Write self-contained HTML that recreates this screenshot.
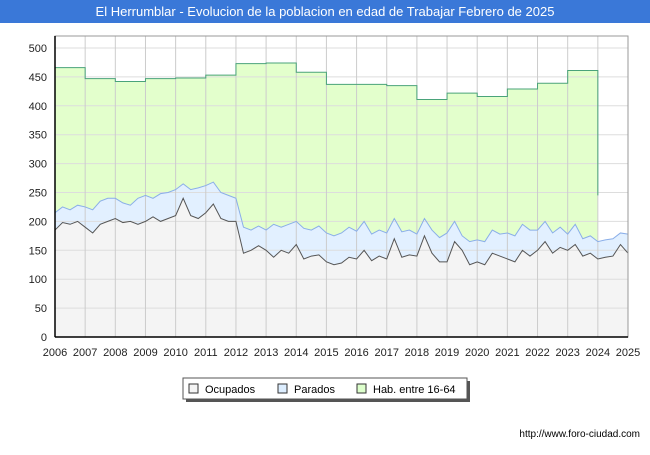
<!DOCTYPE html>
<html><head><meta charset="utf-8"><style>
body{margin:0;width:650px;height:450px;background:#fff;font-family:"Liberation Sans",sans-serif;overflow:hidden}
</style></head><body>
<svg width="650" height="450" xmlns="http://www.w3.org/2000/svg">
<rect x="0" y="0" width="650" height="450" fill="#fff"/>
<rect x="0" y="0" width="650" height="23" fill="#3a78d8"/>
<text x="325" y="16" text-anchor="middle" fill="#fff" font-size="13">El Herrumblar - Evolucion de la poblacion en edad de Trabajar Febrero de 2025</text>
<g id="plot"></g>
<g>
<rect x="186" y="381" width="284" height="21" fill="#555"/>
<rect x="183" y="378" width="284" height="21" fill="#fff" stroke="#555"/>
<rect x="189" y="384" width="9" height="9" fill="#f4f4f4" stroke="#333"/>
<text x="205" y="393" font-size="11">Ocupados</text>
<rect x="278" y="384" width="9" height="9" fill="#ddeeff" stroke="#333"/>
<text x="294" y="393" font-size="11">Parados</text>
<rect x="357" y="384" width="9" height="9" fill="#ddffcc" stroke="#333"/>
<text x="373" y="393" font-size="11">Hab. entre 16-64</text>
</g>
<text x="640" y="437" text-anchor="end" font-size="10">http://www.foro-ciudad.com</text>
</svg>
<script>
const years=[2006,2007,2008,2009,2010,2011,2012,2013,2014,2015,2016,2017,2018,2019,2020,2021,2022,2023,2024,2025];
const yTicks=[0,50,100,150,200,250,300,350,400,450,500];
const hab=[466,447,442,447,448,453,473,474,458,437,437,435,411,422,416,429,439,461];
const habTail=[390,245];
const ocupados=[185,198,195,200,190,180,195,200,205,198,200,195,200,208,200,205,210,240,210,205,215,230,205,200,200,145,150,158,150,138,150,145,160,135,140,142,130,125,128,138,135,150,132,140,135,170,138,142,140,175,145,130,130,165,150,125,130,125,145,140,135,130,150,140,150,165,145,155,150,160,140,145,135,138,140,160,145];
const parados=[30,27,25,28,35,40,40,40,35,34,28,45,45,32,48,45,45,25,45,53,47,38,45,45,40,45,35,34,35,57,40,50,40,53,45,50,50,50,52,52,48,50,46,45,45,35,44,43,38,30,40,42,50,35,25,40,38,40,40,38,45,45,45,45,35,35,35,35,28,35,30,30,30,30,30,20,33];
const X0=55,X1=628,Y0=337,Y1=48;
const xs=t=>X0+(t-2006)/(2025-2006)*(X1-X0);
const ys=v=>Y0-v/500*(Y0-Y1);
const NS="http://www.w3.org/2000/svg";
const g=document.getElementById('plot');
function mk(tag,attrs){const e=document.createElementNS(NS,tag);for(const k in attrs)e.setAttribute(k,attrs[k]);g.appendChild(e);return e;}
const bg=mk('rect',{x:X0,y:36,width:X1-X0,height:Y0-36,fill:'#fff'});


const tq=i=>2006+i*0.25;
let hp=`M${xs(2006)},${ys(0)}`;
hab.forEach((v,i)=>{hp+=` L${xs(2006+i)},${ys(v)} L${xs(2007+i)},${ys(v)}`;});
const lastX=xs(2006+hab.length);
hp+=` L${lastX},${ys(0)} Z`;
const ha=mk('path',{d:hp,fill:'#e3ffcc'});


const tot=ocupados.map((v,i)=>v+parados[i]);
const ptsT=tot.map((v,i)=>[xs(tq(i)),ys(v)]);
const ptsO=ocupados.map((v,i)=>[xs(tq(i)),ys(v)]);
const pa=mk('path',{d:'M'+ptsT.map(p=>p.join(',')).join(' L')+` L${ptsT[ptsT.length-1][0]},${ys(0)} L${xs(2006)},${ys(0)} Z`,fill:'#e2f0ff'});


const oa=mk('path',{d:'M'+ptsO.map(p=>p.join(',')).join(' L')+` L${ptsO[ptsO.length-1][0]},${ys(0)} L${xs(2006)},${ys(0)} Z`,fill:'#f4f4f4'});


yTicks.forEach(v=>{
 const l=mk('line',{x1:X0,x2:X1,y1:ys(v),y2:ys(v),stroke:'#ddd'});
 
 
 const t=mk('text',{x:X0-8,y:ys(v)+4,'text-anchor':'end','font-size':11,fill:'#222'});
 t.textContent=v;
 
 
});
years.forEach(yr=>{
 const l=mk('line',{x1:xs(yr),x2:xs(yr),y1:36,y2:Y0,stroke:'#ccc'});
 
 
 const t=mk('text',{x:xs(yr),y:Y0+19,'text-anchor':'middle','font-size':11,fill:'#222'});
 t.textContent=yr;
 
 
});
let hl=`M${xs(2006)},${ys(hab[0])}`;
hab.forEach((v,i)=>{hl+=` L${xs(2006+i)},${ys(v)} L${xs(2007+i)},${ys(v)}`;});
habTail.forEach(v=>{hl+=` L${lastX},${ys(v)}`;});
const hline=mk('path',{d:hl,fill:'none',stroke:'#4aa37a','stroke-width':1});


const tl=mk('polyline',{points:ptsT.map(p=>p.join(',')).join(' '),fill:'none',stroke:'#8aaee8','stroke-width':1});


const ol=mk('polyline',{points:ptsO.map(p=>p.join(',')).join(' '),fill:'none',stroke:'#555','stroke-width':1});


const fr=mk('rect',{x:X0,y:36,width:X1-X0,height:Y0-36,fill:'none',stroke:'#999'});


const ax=mk('line',{x1:X0,x2:X0,y1:36,y2:Y0,stroke:'#000','stroke-width':1.5});


const bx=mk('line',{x1:X0,x2:X1,y1:Y0,y2:Y0,stroke:'#000','stroke-width':1.5});


</script>
</body></html>
